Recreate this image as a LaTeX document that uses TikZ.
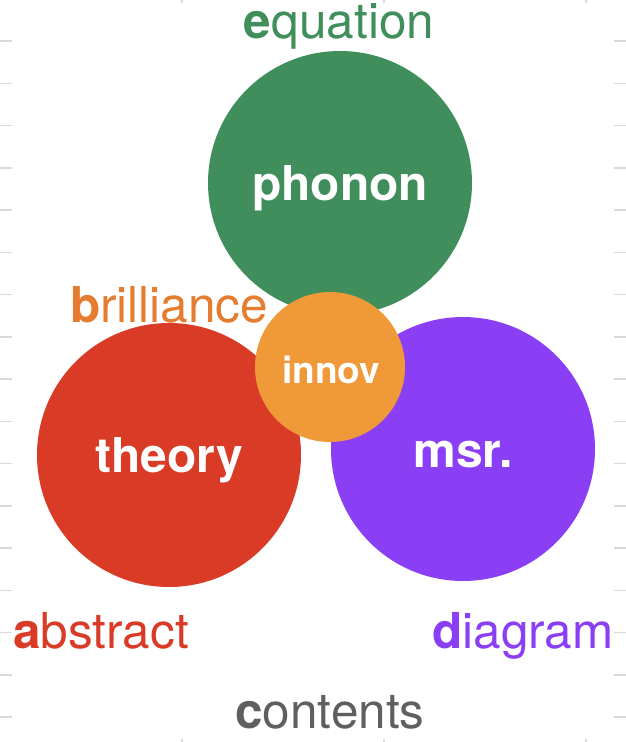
\documentclass[tikz,border=0pt]{standalone}
\usepackage{fontspec}
\setmainfont{TeX Gyre Heros}
\definecolor{cgreen}{HTML}{3F8E5B}
\definecolor{cred}{HTML}{D93B26}
\definecolor{cpurple}{HTML}{8A3FF5}
\definecolor{corange}{HTML}{EF9938}
\definecolor{corangetxt}{HTML}{E57D30}
\definecolor{cgray}{HTML}{5F5F5F}
\definecolor{ctick}{HTML}{D9D9D9}
\begin{document}
\begin{tikzpicture}[x=1pt,y=-1pt,
  bigcirc/.style={circle,inner sep=0pt,minimum size=264pt},
  smallcirc/.style={circle,inner sep=0pt,minimum size=150pt,fill=corange},
  innerlbl/.style={anchor=base,inner sep=0pt,text=white,font=\fontsize{48}{48}\selectfont\bfseries},
  outerlbl/.style={anchor=base,inner sep=0pt,font=\fontsize{49.5}{49.5}\selectfont},
  tick/.style={draw=ctick,line width=1.5pt}]
\useasboundingbox (0,0) rectangle (626,742);
% ticks
\foreach \k in {0,...,16}{
  \coordinate (tl\k) at (0,{41+42.25*\k});
  \coordinate (tle\k) at (12,{41+42.25*\k});
  \coordinate (tr\k) at (614,{41+42.25*\k});
  \coordinate (tre\k) at (626,{41+42.25*\k});
  \draw[tick] (tl\k) -- (tle\k);
  \draw[tick] (tr\k) -- (tre\k);
}
\foreach \xx in {182,384,586}{
  \coordinate (tt\xx) at (\xx,0);
  \coordinate (tte\xx) at (\xx,3);
  \coordinate (tb\xx) at (\xx,739);
  \coordinate (tbe\xx) at (\xx,742);
  \draw[tick] (tt\xx) -- (tte\xx);
  \draw[tick] (tb\xx) -- (tbe\xx);
}
% circles
\node[bigcirc,fill=cgreen] (phonon) at (340,183) {};
\node[bigcirc,fill=cred] (theory) at (169,455) {};
\node[bigcirc,fill=cpurple] (msr) at (463,449) {};
\node[smallcirc] (innov) at (330,367) {};
% inner labels
\node[innerlbl] (tphonon) at (340,200) {phonon};
\node[innerlbl] (ttheory) at (169,472) {theory};
\node[innerlbl] (tmsr) at (463,467) {msr.};
\node[innerlbl,font=\fontsize{37}{37}\selectfont\bfseries] (tinnov) at (331,383) {innov};
% outer labels
\node[outerlbl,text=cgreen] (equation) at (339,38) {\textbf{e}quation};
\node[outerlbl,text=corangetxt] (brilliance) at (169,322) {\textbf{b}rilliance};
\node[outerlbl,text=cred] (abstract) at (101,648) {\textbf{a}bstract};
\node[outerlbl,text=cpurple] (diagram) at (523,648) {\textbf{d}iagram};
\node[outerlbl,text=cgray] (contents) at (330,728) {\textbf{c}ontents};
\end{tikzpicture}
\end{document}
